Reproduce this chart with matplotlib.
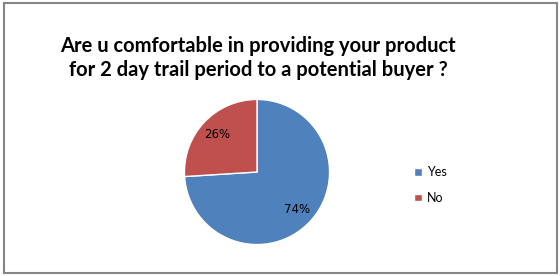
import matplotlib
matplotlib.use("Agg")
import matplotlib.pyplot as plt
from matplotlib.patches import Rectangle

labels = ["Yes", "No"]
values = [74, 26]
colors = ["#4F81BD", "#C0504D"]
title = "Are u comfortable in providing your product\nfor 2 day trail period to a potential buyer ?"

W, H = 560, 276
fig = plt.figure(figsize=(W / 100, H / 100), dpi=100)

# outer border of the chart area
fig.patches.append(Rectangle((3.5 / W, 3.5 / H), (W - 7) / W, (H - 7) / H,
                             transform=fig.transFigure, fill=False,
                             edgecolor="#868686", linewidth=1.5))

fig.text(258 / W, 1 - 58 / H, title, ha="center", va="center",
         fontsize=14.5, fontweight="bold", family="Lato", linespacing=1.25)

# pie centre (257, 172) px, radius 74 px
cx, cy, r = 257, 172, 74
ax = fig.add_axes([(cx - r) / W, (H - cy - r) / H, 2 * r / W, 2 * r / H])
wedges, texts, autotexts = ax.pie(values, colors=colors, startangle=90,
                                  counterclock=False, autopct="%d%%",
                                  pctdistance=0.75, radius=1,
                                  wedgeprops=dict(edgecolor="white", linewidth=1))
for t in autotexts:
    t.set_fontsize(8.5)
    t.set_family("DejaVu Sans")
    t.set_color("black")
ax.set_xlim(-1.02, 1.02)
ax.set_ylim(-1.02, 1.02)
ax.axis("off")

fig.legend(wedges, labels, loc="center left",
           bbox_to_anchor=(403 / W, 1 - 185 / H), frameon=False,
           prop={"family": "Lato", "size": 9}, handlelength=0.6,
           handleheight=0.6, handletextpad=0.4, labelspacing=1.1)

fig.savefig("out.png", dpi=100)
